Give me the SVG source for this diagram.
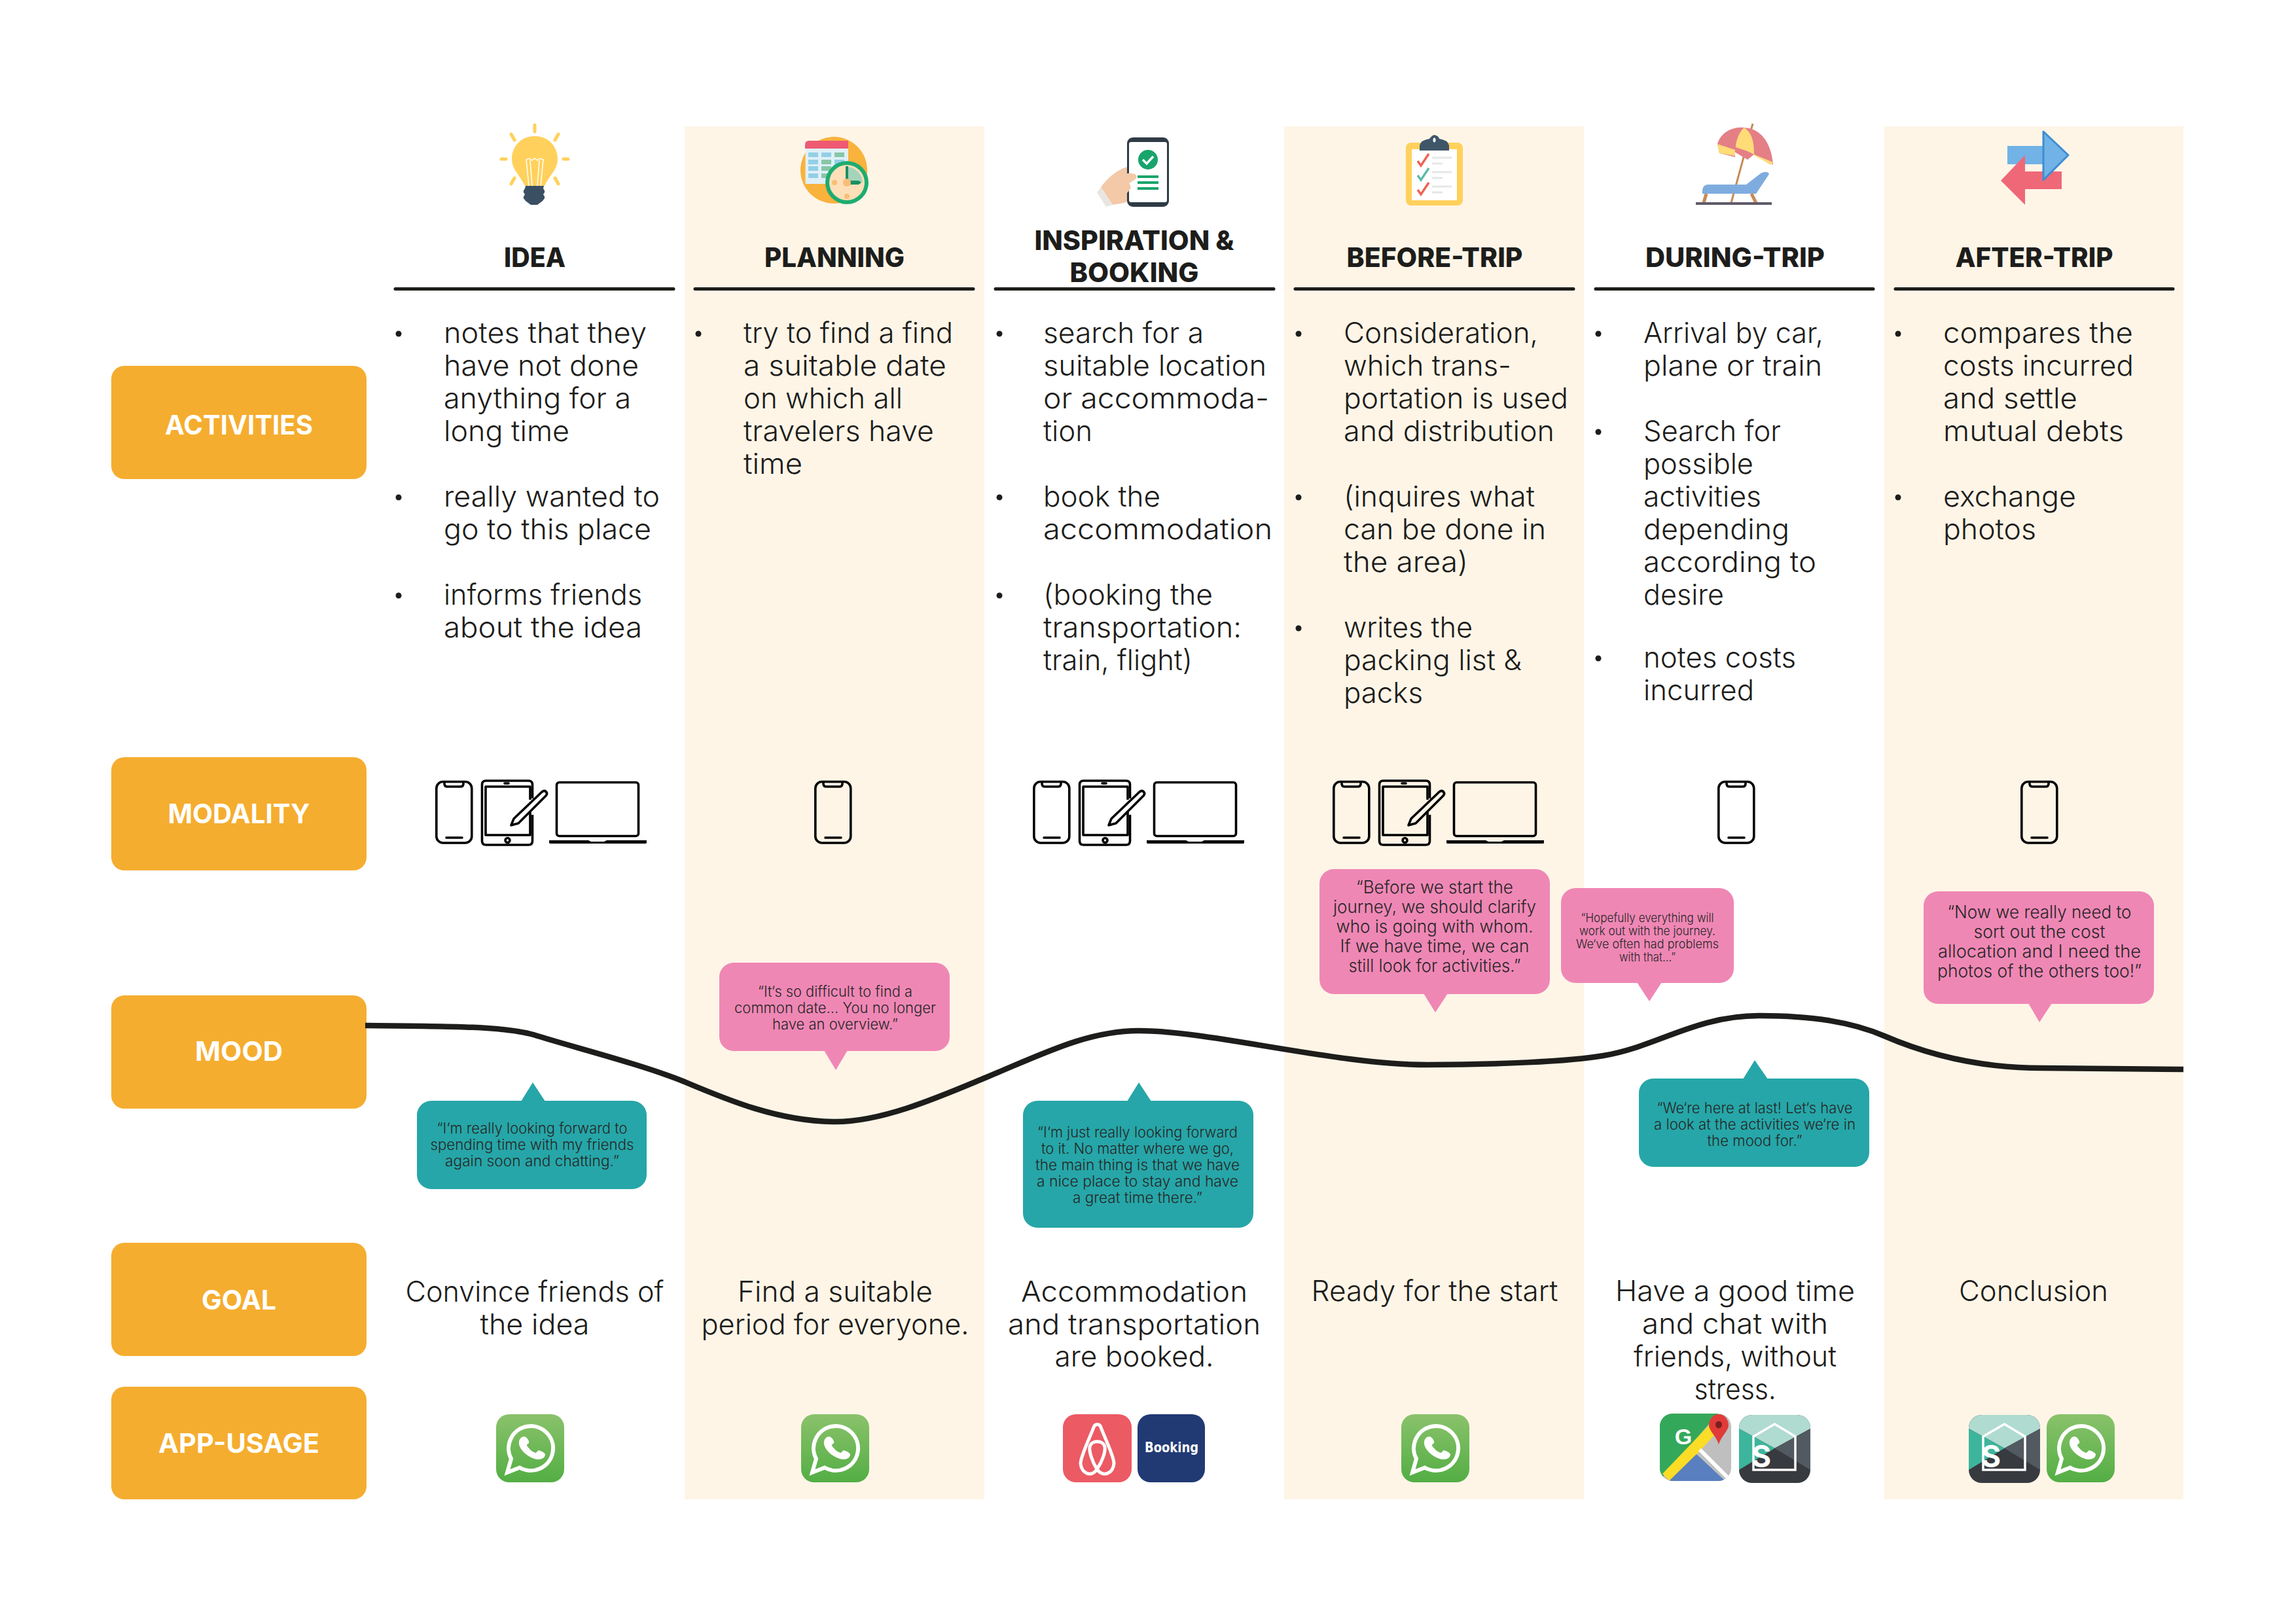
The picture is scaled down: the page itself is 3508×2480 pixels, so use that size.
<svg xmlns="http://www.w3.org/2000/svg" width="3508" height="2480" viewBox="0 0 3508 2480">
<style>
text{font-family:"Inter","Liberation Sans",sans-serif;fill:#1d1d1b}
.b{font-size:44px;font-weight:300}
.g{font-size:44px;font-weight:300;text-anchor:middle}
.h{font-size:41px;font-weight:800;text-anchor:middle}
.l{font-size:41px;font-weight:700;text-anchor:middle;fill:#fff}
.q{font-weight:300;text-anchor:middle;fill:#262626}
.q27{font-size:27px}.q22{font-size:22.5px}.q18{font-size:18.5px}
.band{fill:#fef5e7}.box{fill:#f5ad2f}.pink{fill:#ef87b5}.teal{fill:#26a6a8}
.rule{stroke:#1d1d1b;stroke-width:5;stroke-linecap:round;fill:none}
.dot{fill:#1d1d1b}
.dev{fill:none;stroke:#000;stroke-width:3.6;stroke-linejoin:round}
.ray{stroke:#ffd15c;stroke-width:5;stroke-linecap:round;fill:none}
</style>
<defs>
<linearGradient id="wa" x1="0" y1="0" x2="0" y2="1"><stop offset="0" stop-color="#8ac26b"/><stop offset="1" stop-color="#53ae44"/></linearGradient>
<g id="phone">
<rect class="dev" x="666.8" y="1194.5" width="54" height="93.5" rx="10"/>
<path class="dev" d="M679 1194.5v3q0 4.500 4.500 4.500h20q4.500 0 4.500-4.500v-3"/>
<path class="dev" d="M682 1280h24" stroke-linecap="round"/>
</g>
<g id="tablet">
<path class="dev" d="M813.500 1220v-21q0-6-6-6h-65q-6 0-6 6v86q0 6 6 6h65q6 0 6-6v-40"/>
<path class="dev" d="M810 1222v-20h-68v74h68v-35"/>
<path class="dev" d="M771 1197h6" stroke-linecap="round"/>
<circle class="dev" cx="775.500" cy="1284" r="3.500"/>
<path class="dev" d="M785 1251l43-41q4-3 6.500 0 2.500 3-.5 6l-42 42-11 3z"/>
</g>
<g id="laptop">
<rect class="dev" x="850.500" y="1195.500" width="125" height="82" rx="4"/>
<path d="M839 1284h60l4 2h20l4-2h61v3.500q0 1.500-2 1.500h-145q-2 0-2-1.500z" fill="#000"/>
</g>
<g id="whatsapp">
<rect width="104" height="104" rx="20" fill="url(#wa)"/>
<path d="M23 68A34 34 0 1 1 36 81.500L17 89z" fill="none" stroke="#fff" stroke-width="6"/>
<path transform="translate(35 34) scale(.889 .76) translate(-30 -29)" d="M38 29C33 30 29 36 30 44C32 58 48 73 62 75C70 76 75 71 75 65C75 62 66 56 63 57L59 62C52 60 45 51 43 46L47 42C48 38 43 29 38 29Z" fill="#fff"/>
</g>
<clipPath id="sclip"><rect width="109" height="104" rx="20"/></clipPath>
<g id="sapp">
<g clip-path="url(#sclip)">
<rect width="109" height="104" fill="#373a3f"/>
<polygon points="0,0 109,0 109,21 54.500,51 0,21" fill="#b0dbd0"/>
<polygon points="0,21 54.500,51 0,84" fill="#3db59c"/>
<polygon points="109,21 54.500,51 109,84" fill="#525960"/>
<polygon points="22,33 54.500,14 86,33 86,84 22,84" fill="none" stroke="#fff" stroke-width="3.500" stroke-linejoin="miter"/>
<text x="34" y="80" font-size="46" font-weight="700" text-anchor="middle" style="fill:#fff">S</text>
</g>
</g>
<clipPath id="mclip"><rect x="2536" y="2160" width="109" height="103" rx="20"/></clipPath>
</defs>
<rect width="3508" height="2480" fill="#fff"/>
<g id="bands">
<rect class="band" x="1046" y="193" width="458" height="2098"/>
<rect class="band" x="1962" y="193" width="458" height="2098"/>
<rect class="band" x="2879" y="193" width="457" height="2098"/>
</g>

<g id="row-activities"><rect class="box" x="170" y="559" width="390" height="173" rx="20"/><text class="l" x="365" y="664" textLength="226" lengthAdjust="spacingAndGlyphs">ACTIVITIES</text></g>
<g id="row-modality"><rect class="box" x="170" y="1157" width="390" height="173" rx="20"/><text class="l" x="365" y="1258" textLength="217" lengthAdjust="spacingAndGlyphs">MODALITY</text></g>
<g id="row-mood"><rect class="box" x="170" y="1521" width="390" height="173" rx="20"/><text class="l" x="365" y="1621" textLength="134" lengthAdjust="spacingAndGlyphs">MOOD</text></g>
<g id="row-goal"><rect class="box" x="170" y="1899" width="390" height="173" rx="20"/><text class="l" x="365" y="2001" textLength="114" lengthAdjust="spacingAndGlyphs">GOAL</text></g>
<g id="row-app"><rect class="box" x="170" y="2119" width="390" height="172" rx="20"/><text class="l" x="365" y="2220" textLength="246" lengthAdjust="spacingAndGlyphs">APP-USAGE</text></g>

<g id="connectors">
<path d="M558 1567C680 1568 770 1568 815 1581C875 1600 976 1625 1046 1653C1110 1680 1190 1714 1277 1714C1350 1714 1440 1674 1505 1647C1590 1612 1660 1575 1740 1575C1850 1575 2040 1627 2181 1627C2280 1627 2400 1622 2450 1613C2530 1600 2590 1552 2688 1552C2770 1552 2830 1562 2879 1583C2960 1618 3040 1632 3120 1632L3336 1634" fill="none" stroke="#1d1d1b" stroke-width="8.500"/>
</g>

<!-- icons -->
<g id="icon-idea">
<path class="ray" d="M817 191v10M781 205l5 9M853 205l-5 9M766 243h7M861 243h7M786 272l-5 9M848 272l5 9"/>
<path d="M817 208C795 208 782 225 782 243C782 260 795 268 802 284L832 284C839 268 852 260 852 243C852 225 839 208 817 208Z" fill="#ffd15c"/>
<path d="M808 284L804 244L809 242L813 245L817 242L821 245L825 242L830 244L826 284M813 284L810 245M821 284L824 245" fill="none" stroke="#fff" stroke-width="1.500"/>
<path d="M803 284h28l-1 4q3 4 2 6l-2 3q3 4 2 6l-3 4-8 6h-10l-8-6-3-4q-1-2 2-6l-2-3q-1-2 2-6z" fill="#3b4f63"/>
</g>
<g id="icon-planning">
<circle cx="1274" cy="260" r="51" fill="#f9b23c"/>
<path d="M1236 215h60v12h-66v-6q0-6 6-6z" fill="#ee5a72"/>
<rect x="1230.500" y="227" width="65.500" height="54" fill="#dff0f7"/>
<g fill="#93cfe6"><rect x="1235" y="233" width="15" height="7"/><rect x="1255" y="233" width="15" height="7"/><rect x="1235" y="244" width="15" height="7"/><rect x="1235" y="254" width="15" height="7"/><rect x="1235" y="265" width="15" height="7"/><rect x="1275" y="244" width="15" height="7"/></g>
<g fill="#88c6a6"><rect x="1275" y="233" width="15" height="7"/><rect x="1255" y="244" width="15" height="7"/><rect x="1255" y="254" width="15" height="7"/><rect x="1255" y="265" width="15" height="7"/></g>
<circle cx="1294" cy="279" r="33" fill="#1eac71"/>
<circle cx="1294" cy="279" r="27" fill="#fddfb8"/>
<path d="M1294 279V255A25 25 0 0 1 1318 279Z" fill="#a5d4bb"/>
<path d="M1292 254h4v25h-4zM1294 276h18l4 3-4 3h-18z" fill="#1a8f5f"/>
<circle cx="1294" cy="279" r="6" fill="#f9bd78"/><circle cx="1275" cy="279" r="4" fill="#f9bd78"/><circle cx="1294" cy="300" r="4" fill="#f9bd78"/>
</g>
<g id="icon-booking">
<path d="M1682 286C1695 268 1712 256 1728 254L1745 262L1745 295L1718 310L1700 313Z" fill="#f3c9a8"/>
<path d="M1682 286L1700 313L1690 316L1676 294Z" fill="#e9e6e1"/>
<rect x="1722" y="210" width="64" height="106" rx="9" fill="#2f3b45"/>
<rect x="1725" y="217" width="58" height="92" rx="3" fill="#fff"/>
<circle cx="1754" cy="244" r="15" fill="#17a56b"/>
<path d="M1746 244l6 6 10-11" fill="none" stroke="#fff" stroke-width="3.500"/>
<path d="M1738 270h32M1738 279h32M1738 288h32" stroke="#17a56b" stroke-width="4"/>
<path d="M1710 270q12-8 24-4 6 4-1 9l-8 5q6 6-2 14l-13 6z" fill="#f3c9a8"/>
</g>
<g id="icon-before">
<rect x="2148" y="218" width="87" height="96" rx="8" fill="#ffd15c"/>
<rect x="2157" y="228" width="69" height="78" fill="#fff"/>
<path d="M2169 230V222Q2171 214 2184 212Q2190 204 2194 207Q2198 208 2199 212Q2212 214 2214 222V230Z" fill="#3f5669"/>
<ellipse cx="2191.500" cy="214" rx="2" ry="3.500" fill="#fff"/>
<g fill="none" stroke-width="3.500"><path d="M2166 246l5 7 12-18" stroke="#ee6352"/><path d="M2166 268l5 7 12-18" stroke="#5cbda9"/><path d="M2166 290l5 7 12-18" stroke="#ee6352"/></g>
<path d="M2188 241h30M2188 250h16M2188 263h30M2188 272h16M2188 285h30M2188 294h16" stroke="#e5e7e8" stroke-width="3"/>
</g>
<g id="icon-during">
<path d="M2678 189L2645 310" stroke="#c68b57" stroke-width="3"/>
<path d="M2624 220C2630 200 2650 193 2665 195C2688 196 2706 215 2709 251L2704 251L2680 236L2670 244L2650 232L2651 240L2627 234Z" fill="#e47f86"/>
<path d="M2665 195C2680 205 2680 225 2680 236L2670 231L2652 225C2652 215 2658 200 2665 195Z" fill="#ffdc77"/>
<path d="M2624 220L2651 229L2650 238L2627 234ZM2680 236L2709 248L2706 252L2681 238Z" fill="#ffdc77"/>
<path d="M2601 296Q2600 282 2610 282H2668L2690 265Q2700 260 2703 266L2683 296Z" fill="#7facdf"/>
<path d="M2607 296L2603 310M2676 296L2683 310" stroke="#c68b57" stroke-width="5"/>
<rect x="2591" y="309" width="116" height="4" fill="#5f5a68"/>
</g>
<g id="icon-after">
<rect x="3067" y="223" width="55" height="28" fill="#71b3e7"/>
<rect x="3094" y="262" width="56" height="27" fill="#ef6878"/>
<polygon points="3094,237 3094,313 3057,276" fill="#ef6878"/>
<polygon points="3122,201 3160,237 3122,275" fill="#71b3e7" stroke="#3e8dd0" stroke-width="3" stroke-linejoin="round"/>
</g>

<!-- headers -->
<g id="col-idea">
<text class="h" x="817" y="408" textLength="94" lengthAdjust="spacingAndGlyphs">IDEA</text>
<path class="rule" d="M604 441.500H1029"/>
<circle class="dot" cx="609" cy="510" r="4.500"/><text class="b" x="678" y="524" textLength="310" lengthAdjust="spacingAndGlyphs">notes that they</text>
<text class="b" x="678" y="574" textLength="298" lengthAdjust="spacingAndGlyphs">have not done</text>
<text class="b" x="678" y="624" textLength="286" lengthAdjust="spacingAndGlyphs">anything for a</text>
<text class="b" x="678" y="674" textLength="192" lengthAdjust="spacingAndGlyphs">long time</text>
<circle class="dot" cx="609" cy="760" r="4.500"/><text class="b" x="678" y="774" textLength="330" lengthAdjust="spacingAndGlyphs">really wanted to</text>
<text class="b" x="678" y="824" textLength="317" lengthAdjust="spacingAndGlyphs">go to this place</text>
<circle class="dot" cx="609" cy="910" r="4.500"/><text class="b" x="678" y="924" textLength="303" lengthAdjust="spacingAndGlyphs">informs friends</text>
<text class="b" x="678" y="974" textLength="303" lengthAdjust="spacingAndGlyphs">about the idea</text>
<use href="#phone"/><use href="#tablet"/><use href="#laptop"/>
<text class="g" x="817" y="1989" textLength="395" lengthAdjust="spacingAndGlyphs">Convince friends of</text>
<text class="g" x="817" y="2039" textLength="167" lengthAdjust="spacingAndGlyphs">the idea</text>
<use href="#whatsapp" x="758" y="2161"/>
</g>
<g id="col-planning">
<text class="h" x="1275" y="408" textLength="214" lengthAdjust="spacingAndGlyphs">PLANNING</text>
<path class="rule" d="M1062 441.500H1487"/>
<circle class="dot" cx="1067" cy="510" r="4.500"/><text class="b" x="1136" y="524" textLength="320" lengthAdjust="spacingAndGlyphs">try to find a find</text>
<text class="b" x="1136" y="574" textLength="310" lengthAdjust="spacingAndGlyphs">a suitable date</text>
<text class="b" x="1136" y="624" textLength="243" lengthAdjust="spacingAndGlyphs">on which all</text>
<text class="b" x="1136" y="674" textLength="291" lengthAdjust="spacingAndGlyphs">travelers have</text>
<text class="b" x="1136" y="724" textLength="90" lengthAdjust="spacingAndGlyphs">time</text>
<use href="#phone" x="579"/>
<text class="g" x="1276" y="1989" textLength="298" lengthAdjust="spacingAndGlyphs">Find a suitable</text>
<text class="g" x="1276" y="2039" textLength="409" lengthAdjust="spacingAndGlyphs">period for everyone.</text>
<use href="#whatsapp" x="1224" y="2161"/>
</g>
<g id="col-booking">
<text class="h" x="1733" y="382" textLength="305" lengthAdjust="spacingAndGlyphs">INSPIRATION &amp;</text>
<text class="h" x="1733" y="431" textLength="197" lengthAdjust="spacingAndGlyphs">BOOKING</text>
<path class="rule" d="M1521 441.500H1946"/>
<circle class="dot" cx="1527" cy="510" r="4.500"/><text class="b" x="1594" y="524" textLength="245" lengthAdjust="spacingAndGlyphs">search for a</text>
<text class="b" x="1594" y="574" textLength="341" lengthAdjust="spacingAndGlyphs">suitable location</text>
<text class="b" x="1594" y="624" textLength="345" lengthAdjust="spacingAndGlyphs">or accommoda-</text>
<text class="b" x="1594" y="674" textLength="75" lengthAdjust="spacingAndGlyphs">tion</text>
<circle class="dot" cx="1527" cy="760" r="4.500"/><text class="b" x="1594" y="774" textLength="179" lengthAdjust="spacingAndGlyphs">book the</text>
<text class="b" x="1594" y="824" textLength="350" lengthAdjust="spacingAndGlyphs">accommodation</text>
<circle class="dot" cx="1527" cy="910" r="4.500"/><text class="b" x="1594" y="924" textLength="259" lengthAdjust="spacingAndGlyphs">(booking the</text>
<text class="b" x="1594" y="974" textLength="303" lengthAdjust="spacingAndGlyphs">transportation:</text>
<text class="b" x="1594" y="1024" textLength="228" lengthAdjust="spacingAndGlyphs">train, flight)</text>
<g transform="translate(913 0)"><use href="#phone"/><use href="#tablet"/><use href="#laptop"/></g>
<text class="g" x="1733" y="1989" textLength="346" lengthAdjust="spacingAndGlyphs">Accommodation</text>
<text class="g" x="1733" y="2039" textLength="386" lengthAdjust="spacingAndGlyphs">and transportation</text>
<text class="g" x="1733" y="2088" textLength="243" lengthAdjust="spacingAndGlyphs">are booked.</text>
<g id="app-airbnb"><rect x="1624" y="2161" width="105" height="104" rx="20" fill="#ec5a64"/>
<path d="M1676 2245C1668 2258 1652 2252 1651 2236C1651 2225 1668 2190 1671 2181C1673 2175 1680 2175 1682 2181C1685 2190 1702 2225 1702 2236C1701 2252 1685 2258 1676 2245C1668 2232 1664 2218 1665 2211C1667 2200 1686 2200 1688 2211C1689 2218 1685 2232 1676 2245Z" fill="none" stroke="#fff" stroke-width="5"/></g>
<g id="app-booking"><rect x="1738" y="2161" width="103" height="104" rx="20" fill="#213a74"/>
<text x="1790" y="2219" font-size="21" font-weight="600" text-anchor="middle" textLength="82" lengthAdjust="spacingAndGlyphs" style="fill:#fff;font-family:'DejaVu Sans',sans-serif">Booking</text></g>
</g>
<g id="col-before">
<text class="h" x="2192" y="408" textLength="269" lengthAdjust="spacingAndGlyphs">BEFORE-TRIP</text>
<path class="rule" d="M1979 441.500H2404"/>
<circle class="dot" cx="1984" cy="510" r="4.500"/><text class="b" x="2053" y="524" textLength="297" lengthAdjust="spacingAndGlyphs">Consideration,</text>
<text class="b" x="2053" y="574" textLength="256" lengthAdjust="spacingAndGlyphs">which trans-</text>
<text class="b" x="2053" y="624" textLength="343" lengthAdjust="spacingAndGlyphs">portation is used</text>
<text class="b" x="2053" y="674" textLength="322" lengthAdjust="spacingAndGlyphs">and distribution</text>
<circle class="dot" cx="1984" cy="760" r="4.500"/><text class="b" x="2053" y="774" textLength="292" lengthAdjust="spacingAndGlyphs">(inquires what</text>
<text class="b" x="2053" y="824" textLength="309" lengthAdjust="spacingAndGlyphs">can be done in</text>
<text class="b" x="2053" y="874" textLength="190" lengthAdjust="spacingAndGlyphs">the area)</text>
<circle class="dot" cx="1984" cy="960" r="4.500"/><text class="b" x="2053" y="974" textLength="197" lengthAdjust="spacingAndGlyphs">writes the</text>
<text class="b" x="2053" y="1024" textLength="272" lengthAdjust="spacingAndGlyphs">packing list &amp;</text>
<text class="b" x="2053" y="1074" textLength="121" lengthAdjust="spacingAndGlyphs">packs</text>
<g transform="translate(1371 0)"><use href="#phone"/><use href="#tablet"/><use href="#laptop"/></g>
<text class="g" x="2192" y="1988" textLength="377" lengthAdjust="spacingAndGlyphs">Ready for the start</text>
<use href="#whatsapp" x="2141" y="2161"/>
</g>
<g id="col-during">
<text class="h" x="2651" y="408" textLength="274" lengthAdjust="spacingAndGlyphs">DURING-TRIP</text>
<path class="rule" d="M2438 441.500H2862"/>
<circle class="dot" cx="2442" cy="510" r="4.500"/><text class="b" x="2511" y="524" textLength="275" lengthAdjust="spacingAndGlyphs">Arrival by car,</text>
<text class="b" x="2511" y="574" textLength="273" lengthAdjust="spacingAndGlyphs">plane or train</text>
<circle class="dot" cx="2442" cy="660" r="4.500"/><text class="b" x="2511" y="674" textLength="210" lengthAdjust="spacingAndGlyphs">Search for</text>
<text class="b" x="2511" y="724" textLength="168" lengthAdjust="spacingAndGlyphs">possible</text>
<text class="b" x="2511" y="774" textLength="180" lengthAdjust="spacingAndGlyphs">activities</text>
<text class="b" x="2511" y="824" textLength="223" lengthAdjust="spacingAndGlyphs">depending</text>
<text class="b" x="2511" y="874" textLength="264" lengthAdjust="spacingAndGlyphs">according to</text>
<text class="b" x="2511" y="924" textLength="123" lengthAdjust="spacingAndGlyphs">desire</text>
<circle class="dot" cx="2442" cy="1006" r="4.500"/><text class="b" x="2511" y="1020" textLength="233" lengthAdjust="spacingAndGlyphs">notes costs</text>
<text class="b" x="2511" y="1070" textLength="169" lengthAdjust="spacingAndGlyphs">incurred</text>
<use href="#phone" x="1959"/>
<text class="g" x="2651" y="1988" textLength="366" lengthAdjust="spacingAndGlyphs">Have a good time</text>
<text class="g" x="2651" y="2038" textLength="284" lengthAdjust="spacingAndGlyphs">and chat with</text>
<text class="g" x="2651" y="2088" textLength="310" lengthAdjust="spacingAndGlyphs">friends, without</text>
<text class="g" x="2651" y="2138" textLength="125" lengthAdjust="spacingAndGlyphs">stress.</text>
<g id="app-maps" clip-path="url(#mclip)">
<rect x="2536" y="2160" width="109" height="103" fill="#bfbfbf"/>
<polygon points="2536,2160 2625,2160 2536,2262" fill="#34a85a"/>
<polygon points="2536,2160 2622,2160 2606,2178 2536,2248" fill="#34a85a"/>
<polygon points="2611,2178 2622,2190 2553,2265 2540,2252" fill="#fbdc26"/>
<polygon points="2592,2222 2636,2263 2550,2263" fill="#597fbf"/>
<path d="M2597 2215L2640 2258" stroke="#fff" stroke-width="6"/>
<path d="M2626 2161C2634 2161 2641 2168 2641 2178C2641 2186 2630 2194 2626 2207C2622 2194 2611 2186 2611 2178C2611 2168 2618 2161 2626 2161Z" fill="#e03b38"/>
<ellipse cx="2626" cy="2177" rx="5" ry="5.500" fill="#7d1f1e"/>
<text x="2572" y="2207" font-size="34" font-weight="700" text-anchor="middle" style="fill:#fff;font-family:'Liberation Sans',sans-serif">G</text>
</g>
<use href="#sapp" x="2657" y="2162"/>
</g>
<g id="col-after">
<text class="h" x="3108" y="408" textLength="241" lengthAdjust="spacingAndGlyphs">AFTER-TRIP</text>
<path class="rule" d="M2896 441.500H3320"/>
<circle class="dot" cx="2900" cy="510" r="4.500"/><text class="b" x="2969" y="524" textLength="290" lengthAdjust="spacingAndGlyphs">compares the</text>
<text class="b" x="2969" y="574" textLength="291" lengthAdjust="spacingAndGlyphs">costs incurred</text>
<text class="b" x="2969" y="624" textLength="205" lengthAdjust="spacingAndGlyphs">and settle</text>
<text class="b" x="2969" y="674" textLength="276" lengthAdjust="spacingAndGlyphs">mutual debts</text>
<circle class="dot" cx="2900" cy="760" r="4.500"/><text class="b" x="2969" y="774" textLength="203" lengthAdjust="spacingAndGlyphs">exchange</text>
<text class="b" x="2969" y="824" textLength="142" lengthAdjust="spacingAndGlyphs">photos</text>
<use href="#phone" x="2422"/>
<text class="g" x="3107" y="1988" textLength="228" lengthAdjust="spacingAndGlyphs">Conclusion</text>
<use href="#sapp" x="3008" y="2162"/>
<use href="#whatsapp" x="3127" y="2161"/>
</g>

<!-- bubbles -->
<g id="quote-idea">
<rect class="teal" x="637" y="1682" width="351" height="135" rx="22"/><polygon class="teal" points="796,1683 833,1683 814,1654"/>
<text class="q q22" x="813" y="1732" textLength="291" lengthAdjust="spacingAndGlyphs">“I‘m really looking forward to</text>
<text class="q q22" x="813" y="1757" textLength="311" lengthAdjust="spacingAndGlyphs">spending time with my friends</text>
<text class="q q22" x="813" y="1782" textLength="266" lengthAdjust="spacingAndGlyphs">again soon and chatting.”</text>
</g>
<g id="quote-planning">
<rect class="pink" x="1099" y="1471" width="352" height="135" rx="22"/><polygon class="pink" points="1259,1605 1295,1605 1277,1635"/>
<text class="q q22" x="1276" y="1523" textLength="236" lengthAdjust="spacingAndGlyphs">“It‘s so difficult to find a</text>
<text class="q q22" x="1276" y="1548" textLength="308" lengthAdjust="spacingAndGlyphs">common date... You no longer</text>
<text class="q q22" x="1276" y="1573" textLength="192" lengthAdjust="spacingAndGlyphs">have an overview.”</text>
</g>
<g id="quote-booking">
<rect class="teal" x="1563" y="1682" width="352" height="194" rx="22"/><polygon class="teal" points="1722,1683 1759,1683 1740,1654"/>
<text class="q q22" x="1738" y="1738" textLength="306" lengthAdjust="spacingAndGlyphs">“I‘m just really looking forward</text>
<text class="q q22" x="1738" y="1763" textLength="294" lengthAdjust="spacingAndGlyphs">to it. No matter where we go,</text>
<text class="q q22" x="1738" y="1788" textLength="312" lengthAdjust="spacingAndGlyphs">the main thing is that we have</text>
<text class="q q22" x="1738" y="1813" textLength="308" lengthAdjust="spacingAndGlyphs">a nice place to stay and have</text>
<text class="q q22" x="1738" y="1838" textLength="198" lengthAdjust="spacingAndGlyphs">a great time there.”</text>
</g>
<g id="quote-before">
<rect class="pink" x="2016" y="1328" width="352" height="191" rx="22"/><polygon class="pink" points="2175,1518 2212,1518 2193,1547"/>
<text class="q q27" x="2192" y="1365" textLength="240" lengthAdjust="spacingAndGlyphs">“Before we start the</text>
<text class="q q27" x="2192" y="1395" textLength="310" lengthAdjust="spacingAndGlyphs">journey, we should clarify</text>
<text class="q q27" x="2192" y="1425" textLength="301" lengthAdjust="spacingAndGlyphs">who is going with whom.</text>
<text class="q q27" x="2192" y="1455" textLength="289" lengthAdjust="spacingAndGlyphs">If we have time, we can</text>
<text class="q q27" x="2192" y="1485" textLength="263" lengthAdjust="spacingAndGlyphs">still look for activities.”</text>
</g>
<g id="quote-hope">
<rect class="pink" x="2385" y="1357" width="264" height="145" rx="22"/><polygon class="pink" points="2501,1501 2539,1501 2520,1530"/>
<text class="q q18" x="2517" y="1409" textLength="203" lengthAdjust="spacingAndGlyphs">“Hopefully everything will</text>
<text class="q q18" x="2517" y="1429" textLength="208" lengthAdjust="spacingAndGlyphs">work out with the journey.</text>
<text class="q q18" x="2517" y="1449" textLength="218" lengthAdjust="spacingAndGlyphs">We‘ve often had problems</text>
<text class="q q18" x="2517" y="1469" textLength="86" lengthAdjust="spacingAndGlyphs">with that...”</text>
</g>
<g id="quote-during">
<rect class="teal" x="2504" y="1648" width="352" height="135" rx="22"/><polygon class="teal" points="2663,1649 2701,1649 2681,1620"/>
<text class="q q22" x="2681" y="1701" textLength="299" lengthAdjust="spacingAndGlyphs">“We‘re here at last! Let‘s have</text>
<text class="q q22" x="2681" y="1726" textLength="308" lengthAdjust="spacingAndGlyphs">a look at the activities we‘re in</text>
<text class="q q22" x="2681" y="1751" textLength="145" lengthAdjust="spacingAndGlyphs">the mood for.”</text>
</g>
<g id="quote-after">
<rect class="pink" x="2939" y="1362" width="352" height="172" rx="22"/><polygon class="pink" points="3099,1533 3135,1533 3116,1562"/>
<text class="q q27" x="3116" y="1403" textLength="281" lengthAdjust="spacingAndGlyphs">“Now we really need to</text>
<text class="q q27" x="3116" y="1433" textLength="201" lengthAdjust="spacingAndGlyphs">sort out the cost</text>
<text class="q q27" x="3116" y="1463" textLength="310" lengthAdjust="spacingAndGlyphs">allocation and I need the</text>
<text class="q q27" x="3116" y="1493" textLength="312" lengthAdjust="spacingAndGlyphs">photos of the others too!”</text>
</g>
</svg>
